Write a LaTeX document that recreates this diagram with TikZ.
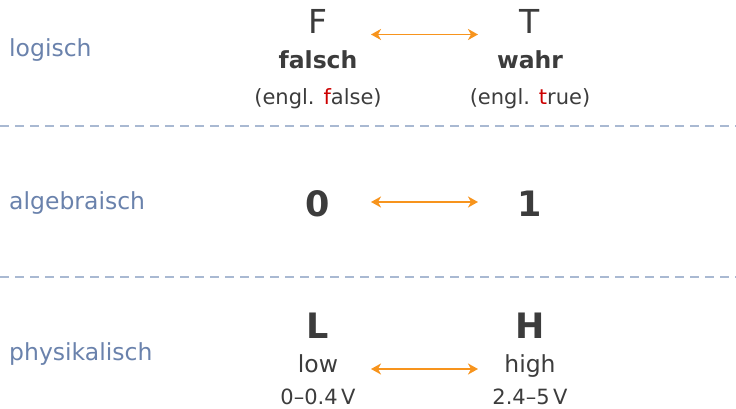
\documentclass[tikz,border=0pt]{standalone}
\usepackage{fontspec}
\setmainfont{DejaVu Sans}
\usetikzlibrary{arrows.meta, positioning}

\definecolor{levelblue}{HTML}{6A82AC}
\definecolor{textgray}{HTML}{3C3C3C}
\definecolor{arroworange}{HTML}{F7941D}
\definecolor{engred}{HTML}{CC0000}
\definecolor{sepgray}{HTML}{A9B9D2}

\begin{document}
\begin{tikzpicture}[x=1pt, y=-1pt,
        level/.style={anchor=base west, inner sep=0pt, color=levelblue, font=\fontsize{23.5}{28}\selectfont},
        symb/.style={anchor=base, inner sep=0pt, color=textgray, font=\fontsize{33}{40}\selectfont},
        bigsymb/.style={anchor=base, inner sep=0pt, color=textgray, font=\fontsize{35}{42}\selectfont\bfseries},
        word/.style={anchor=base, inner sep=0pt, color=textgray, font=\fontsize{23.5}{28}\selectfont},
        bword/.style={anchor=base, inner sep=0pt, color=textgray, font=\fontsize{23.5}{28}\selectfont\bfseries},
        note/.style={anchor=base, inner sep=0pt, color=textgray, font=\fontsize{21}{25}\selectfont},
        twoway/.style={{Stealth[length=10pt, width=11pt, inset=3pt]}-{Stealth[length=10pt, width=11pt, inset=3pt]}, line width=1.8pt, color=arroworange},
        sep/.style={dashed, dash pattern=on 9pt off 6pt, line width=1.3pt, color=sepgray}
    ]
        \useasboundingbox (0,0) rectangle (736,409);

        % --- level labels (left column) ---
        \node[level] (logisch) at (9, 57) {logisch};
        \node[level] (algebraisch) at (9, 209) {algebraisch};
        \node[level] (physikalisch) at (9, 360) {physikalisch};

        % --- separators ---
        \coordinate (sepAl) at (0, 126);
        \coordinate (sepAr) at (736, 126);
        \coordinate (sepBl) at (0, 277);
        \coordinate (sepBr) at (736, 277);
        \draw[sep] (sepAl) -- (sepAr);
        \draw[sep] (sepBl) -- (sepBr);

        % --- logical level ---
        \node[symb] (F) at (318, 34) {F};
        \node[symb] (T) at (530, 34) {T};
        \node[bword] (falsch) at (318, 69) {falsch};
        \node[bword] (wahr) at (530, 69) {wahr};
        \node[note] (false) at (318, 105) {(engl. \textcolor{engred}{f}alse)};
        \node[note] (true) at (530, 105) {(engl. \textcolor{engred}{t}rue)};
        \coordinate (topL) at (371, 34.5);
        \coordinate (topR) at (478, 34.5);
        \draw[twoway] (topL) -- (topR);

        % --- algebraic level ---
        \node[bigsymb] (zero) at (318, 216) {0};
        \node[bigsymb] (one) at (530, 216) {1};
        \coordinate (midL) at (371, 202);
        \coordinate (midR) at (478, 202);
        \draw[twoway] (midL) -- (midR);

        % --- physical level ---
        \node[bigsymb] (L) at (318, 338) {L};
        \node[bigsymb] (H) at (530, 338) {H};
        \node[word] (low) at (318, 372) {low};
        \node[word] (high) at (530, 372) {high};
        \node[note] (lowV) at (318, 404) {0--0.4\,V};
        \node[note] (highV) at (530, 404) {2.4--5\,V};
        \coordinate (botL) at (371, 369);
        \coordinate (botR) at (478, 369);
        \draw[twoway] (botL) -- (botR);
\end{tikzpicture}
\end{document}
